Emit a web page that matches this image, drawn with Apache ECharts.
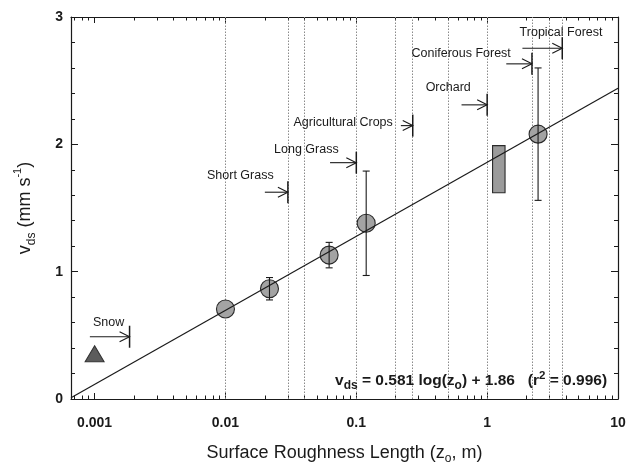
<!DOCTYPE html>
<html><head><meta charset="utf-8">
<script src="https://cdn.jsdelivr.net/npm/echarts@6/dist/echarts.min.js"></script>
<style>html,body{margin:0;padding:0;background:#fff;overflow:hidden}#c{width:637px;height:463px}</style>
</head><body><div id="c"></div>
<script>
// ---- axis ranges & ticks ----
const zMin = 0.00066, zMax = 10;
const xMajorTicks = [0.001, 0.01, 0.1, 1, 10];
const xMinorTicks = [0.0007, 0.0008, 0.0009,
  0.002, 0.003, 0.004, 0.005, 0.006, 0.007, 0.008, 0.009,
  0.02, 0.03, 0.04, 0.05, 0.06, 0.07, 0.08, 0.09,
  0.2, 0.3, 0.4, 0.5, 0.6, 0.7, 0.8, 0.9,
  2, 3, 4, 5, 6, 7, 8, 9];
const vMin = 0, vMax = 3, vStep = 1;

// ---- measured sites (circles with error bars) ----
const siteZ   = [0.01, 0.0217, 0.062, 0.119, 2.45];
const siteV   = [0.707, 0.866, 1.13, 1.38, 2.08];
const siteErr = [0, 0.088, 0.10, 0.41, 0.52];

// ---- snow (triangle) ----
const snowZ = [0.001];
const snowV = [0.355];

// ---- orchard (box) ----
const orchardZ = [1.1, 1.37];
const orchardV = [1.62, 1.99];

// ---- regression line v = 0.581 log(z) + 1.86 (end points) ----
const fitZ = [0.00066, 10];
const fitV = [0.01, 2.44];

// ---- vertical dotted boundaries ----
const boundaryZ = [0.01, 0.03, 0.04, 0.1, 0.2, 0.27, 0.5, 1, 2.2, 3, 3.75];

// ---- surface class arrows ----
const classNames = ['Snow', 'Short Grass', 'Long Grass', 'Agricultural Crops', 'Orchard', 'Coniferous Forest', 'Tropical Forest'];
const arrowFromZ = [0.00092, 0.02, 0.063, 0.219, 0.637, 1.40, 1.86];
const arrowToZ   = [0.00185, 0.03, 0.1, 0.27, 1.0, 2.2, 3.75];
const arrowV     = [0.489, 1.624, 1.856, 2.147, 2.31, 2.632, 2.755];
const classLabelZ = [0.00128, 0.0130, 0.0415, 0.0793, 0.504, 0.633, 3.67];
const classLabelV = [0.603, 1.752, 1.962, 2.174, 2.445, 2.716, 2.881];

// ---- equation text anchor ----
const eqZ = [8.25];
const eqV = [0.14];

const FONT = 'Liberation Sans, Arial, Helvetica, sans-serif';
const INK = '#1a1a1a';

const chart = echarts.init(document.getElementById('c'), null, {renderer: 'canvas'});

function xAx(pos, ticks, len, showLine, extra) {
  return Object.assign({
    type: 'log', logBase: 10, gridIndex: 0, position: pos, min: zMin, max: zMax,
    axisLine: {show: showLine, lineStyle: {color: INK, width: 1.2}},
    axisTick: {show: true, inside: true, length: len, customValues: ticks, lineStyle: {color: INK, width: 1}},
    axisLabel: {show: false},
    splitLine: {show: false}, minorTick: {show: false}, minorSplitLine: {show: false}
  }, extra || {});
}
function yAx(pos, showLabel, extra) {
  return Object.assign({
    type: 'value', gridIndex: 0, position: pos, min: vMin, max: vMax, interval: vStep,
    axisLine: {show: true, lineStyle: {color: INK, width: 1.2}},
    axisTick: {show: true, inside: true, length: 7, lineStyle: {color: INK, width: 1}},
    minorTick: {show: true, splitNumber: 5, length: 4, lineStyle: {color: INK, width: 1}},
    axisLabel: {show: showLabel, margin: 8, fontFamily: FONT, fontSize: 14, fontWeight: 'bold', color: INK},
    splitLine: {show: false}
  }, extra || {});
}

const errData = [];
siteZ.forEach((z, i) => { if (siteErr[i] > 0) errData.push([z, siteV[i] - siteErr[i], siteV[i] + siteErr[i]]); });

const arrowData = classNames.map((n, i) => [arrowFromZ[i], arrowToZ[i], arrowV[i], classLabelZ[i], classLabelV[i], n]);

const option = {
  backgroundColor: '#fff',
  animation: false,
  grid: {left: 71, right: 19, top: 17, bottom: 64, containLabel: false, outerBoundsMode: 'none'},
  xAxis: [
    xAx('bottom', xMajorTicks, 6, true, {
      axisLabel: {show: true, customValues: xMajorTicks, margin: 17, fontFamily: FONT, fontSize: 14, fontWeight: 'bold', color: INK,
        formatter: v => String(+v.toPrecision(6))},
      name: '{t|Surface Roughness Length (z}{s|o}{t|, m)}',
      nameLocation: 'middle', nameGap: 42,
      nameTextStyle: {fontFamily: FONT, color: INK, fontSize: 18,
        rich: {t: {fontFamily: FONT, fontSize: 18, color: INK, lineHeight: 24},
               s: {fontFamily: FONT, fontSize: 12, color: INK, lineHeight: 14, verticalAlign: 'bottom'}}}
    }),
    xAx('bottom', xMinorTicks, 3.5, false),
    xAx('top', xMajorTicks, 6, true),
    xAx('top', xMinorTicks, 3.5, false)
  ],
  yAxis: [
    yAx('left', true, {
      name: '{t|v}{s|ds}{t| (mm s}{p|-1}{t|)}',
      nameLocation: 'middle', nameGap: 33, nameRotate: 90,
      nameTextStyle: {fontFamily: FONT, color: INK, fontSize: 18,
        rich: {t: {fontFamily: FONT, fontSize: 18, color: INK, lineHeight: 26},
               s: {fontFamily: FONT, fontSize: 12, color: INK, lineHeight: 14, verticalAlign: 'bottom'},
               p: {fontFamily: FONT, fontSize: 11, color: INK, lineHeight: 12, verticalAlign: 'top'}}}
    }),
    yAx('right', false)
  ],
  series: [
    {
      name: 'sites', type: 'scatter', xAxisIndex: 0, yAxisIndex: 0, z: 2,
      symbol: 'circle', symbolSize: 18,
      itemStyle: {color: '#a3a3a3', borderColor: '#2a2a2a', borderWidth: 1.1, opacity: 1},
      data: siteZ.map((z, i) => [z, siteV[i]])
    },
    {
      name: 'snow', type: 'scatter', xAxisIndex: 0, yAxisIndex: 0, z: 2,
      symbol: 'triangle', symbolSize: [19, 16],
      itemStyle: {color: '#5c5c5c', borderColor: '#333', borderWidth: 1, opacity: 1},
      data: snowZ.map((z, i) => [z, snowV[i]])
    },
    {
      name: 'orchard', type: 'custom', xAxisIndex: 0, yAxisIndex: 0, z: 2,
      data: [[orchardZ[0], orchardV[0], orchardZ[1], orchardV[1]]],
      renderItem: (params, api) => {
        const a = api.coord([api.value(0), api.value(1)]);
        const b = api.coord([api.value(2), api.value(3)]);
        return {type: 'rect', shape: {x: Math.min(a[0], b[0]), y: Math.min(a[1], b[1]), width: Math.abs(b[0] - a[0]), height: Math.abs(b[1] - a[1])},
          style: {fill: '#9b9b9b', stroke: '#2a2a2a', lineWidth: 1.1}};
      }
    },
    {
      name: 'fit', type: 'line', xAxisIndex: 0, yAxisIndex: 0, z: 3,
      symbol: 'none', lineStyle: {color: INK, width: 1.2},
      data: fitZ.map((z, i) => [z, fitV[i]]),
      markLine: {
        silent: true, symbol: 'none', label: {show: false}, z: 1,
        lineStyle: {type: [1.5, 1.5], color: '#8a8a8a', width: 1},
        data: boundaryZ.map(z => ({xAxis: z}))
      }
    },
    {
      name: 'errors', type: 'custom', xAxisIndex: 0, yAxisIndex: 0, z: 4,
      data: errData,
      renderItem: (params, api) => {
        const lo = api.coord([api.value(0), api.value(1)]);
        const hi = api.coord([api.value(0), api.value(2)]);
        const w = 3.5, st = {stroke: INK, lineWidth: 1.1};
        return {type: 'group', children: [
          {type: 'line', shape: {x1: lo[0], y1: lo[1], x2: hi[0], y2: hi[1]}, style: st},
          {type: 'line', shape: {x1: lo[0] - w, y1: lo[1], x2: lo[0] + w, y2: lo[1]}, style: st},
          {type: 'line', shape: {x1: hi[0] - w, y1: hi[1], x2: hi[0] + w, y2: hi[1]}, style: st}
        ]};
      }
    },
    {
      name: 'classes', type: 'custom', xAxisIndex: 0, yAxisIndex: 0, z: 5,
      data: arrowData,
      renderItem: (params, api) => {
        const p0 = api.coord([api.value(0), api.value(2)]);
        const p1 = api.coord([api.value(1), api.value(2)]);
        const pl = api.coord([api.value(3), api.value(4)]);
        const st = {stroke: INK, lineWidth: 1.1, fill: 'none'};
        return {type: 'group', children: [
          {type: 'line', shape: {x1: p0[0], y1: p0[1], x2: p1[0], y2: p1[1]}, style: st},
          {type: 'polyline', shape: {points: [[p1[0] - 10, p1[1] - 5], [p1[0], p1[1]], [p1[0] - 10, p1[1] + 5]]}, style: st},
          {type: 'line', shape: {x1: p1[0], y1: p1[1] - 11, x2: p1[0], y2: p1[1] + 11}, style: {stroke: INK, lineWidth: 1.5}},
          {type: 'text', x: pl[0], y: pl[1], style: {text: arrowData[params.dataIndex][5], fill: INK,
            font: '12.5px ' + FONT, align: 'center', verticalAlign: 'middle'}}
        ]};
      }
    },
    {
      name: 'equation', type: 'custom', xAxisIndex: 0, yAxisIndex: 0, z: 5,
      data: eqZ.map((z, i) => [z, eqV[i]]),
      renderItem: (params, api) => {
        const p = api.coord([api.value(0), api.value(1)]);
        return {type: 'text', x: p[0], y: p[1], style: {
          text: '{b|v}{s|ds}{b| = 0.581 log(z}{s|o}{b|) + 1.86   (r}{p|2}{b| = 0.996)}',
          align: 'right', verticalAlign: 'middle', fill: INK,
          rich: {
            b: {fontFamily: FONT, fontSize: 15.5, fontWeight: 'bold', fill: INK, lineHeight: 22},
            s: {fontFamily: FONT, fontSize: 12, fontWeight: 'bold', fill: INK, lineHeight: 13, verticalAlign: 'bottom'},
            p: {fontFamily: FONT, fontSize: 11.5, fontWeight: 'bold', fill: INK, lineHeight: 12, verticalAlign: 'top'}
          }
        }};
      }
    }
  ]
};
chart.setOption(option);
</script>
</body></html>
